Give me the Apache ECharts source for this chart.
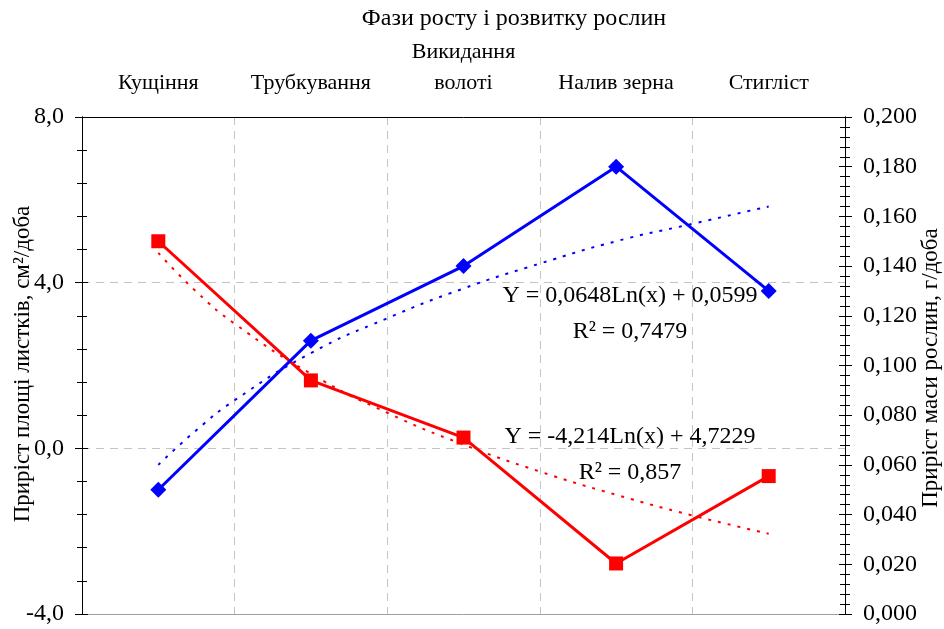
<!DOCTYPE html>
<html>
<head>
<meta charset="utf-8">
<script src="https://cdn.jsdelivr.net/npm/echarts@6/dist/echarts.min.js"></script>
<style>html,body{margin:0;padding:0;background:#fff}#c{width:944px;height:629px}</style>
</head>
<body>
<div id="c"></div>
<script>
const categories = ['Кущіння', 'Трубкування', 'Викидання\nволоті', 'Налив зерна', 'Стигліст'];
const leafArea = [5.0, 1.64, 0.26, -2.78, -0.67];          // left axis, red
const plantMass = [0.050, 0.110, 0.140, 0.180, 0.130];      // right axis, blue
const trendX = [1, 1.25, 1.5, 2, 2.5, 3, 3.5, 4, 4.5, 5];
const leafTrend = [4.72, 3.78, 3.01, 1.80, 0.86, 0.09, -0.56, -1.12, -1.62, -2.06];
const massTrend = [0.060, 0.074, 0.086, 0.105, 0.119, 0.131, 0.141, 0.150, 0.157, 0.164];
const leftTicks = { min: -4, max: 8, interval: 4 };
const rightTicks = { min: 0, max: 0.2, interval: 0.02 };

const FONT = 'Liberation Serif';
const chart = echarts.init(document.getElementById('c'), null, { renderer: 'canvas' });
const pos = (i) => i + 0.5;
const trendPos = (x) => x - 0.5;

const yBase = (side, t, fmtDigits, tickIn, labelShow) => ({
  type: 'value', position: side, min: t.min, max: t.max, interval: t.interval,
  axisLine: { show: true, onZero: false, lineStyle: { color: '#000', width: 1 } },
  axisTick: { show: true, inside: tickIn, length: tickIn ? 6 : 7, lineStyle: { color: '#000' } },
  minorTick: { show: true, splitNumber: 5, length: 5, lineStyle: { color: '#000' } },
  axisLabel: { show: labelShow, color: '#000', fontFamily: FONT, fontSize: 24, margin: 18,
    formatter: v => v.toFixed(fmtDigits).replace('.', ',') },
  splitLine: { show: false }, z: 4
});

const left = yBase('left', leftTicks, 1, false, true);
left.splitLine = { show: true, showMinLine: false, showMaxLine: false,
  lineStyle: { color: '#c4c4c4', type: [8, 6], width: 1 } };
left.z = 0;
const leftIn = yBase('left', leftTicks, 1, true, false);
const right = yBase('right', rightTicks, 3, false, true);
const rightIn = yBase('right', rightTicks, 3, true, false);

chart.setOption({
  animation: false,
  backgroundColor: '#fff',
  grid: { left: 82, right: 99, top: 117, bottom: 15, containLabel: false },
  xAxis: [
    { type: 'category', position: 'top', data: categories, boundaryGap: true,
      axisLine: { onZero: false, lineStyle: { color: '#000' } }, axisTick: { show: false },
      axisLabel: { color: '#000', fontFamily: FONT, fontSize: 22, lineHeight: 31, margin: 18, interval: 0 },
      splitLine: { show: false }, z: 4 },
    { type: 'value', position: 'bottom', min: 0, max: 5, interval: 1,
      axisLine: { show: true, onZero: false, lineStyle: { color: '#a0a0a0' } },
      axisTick: { show: false }, axisLabel: { show: false },
      splitLine: { show: true, showMinLine: false, showMaxLine: false,
        lineStyle: { color: '#c4c4c4', type: [8, 6], width: 1 } }, z: 0 }
  ],
  yAxis: [left, right, leftIn, rightIn],
  series: [
    { type: 'line', name: 'trendLeaf', xAxisIndex: 1, yAxisIndex: 0, smooth: true, showSymbol: false,
      data: trendX.map((x, i) => [trendPos(x), leafTrend[i]]),
      lineStyle: { color: '#ff0000', width: 2, type: [3, 7] }, z: 2 },
    { type: 'line', name: 'trendMass', xAxisIndex: 1, yAxisIndex: 1, smooth: true, showSymbol: false,
      data: trendX.map((x, i) => [trendPos(x), massTrend[i]]),
      lineStyle: { color: '#0000ff', width: 2, type: [3, 7] }, z: 2 },
    { type: 'line', name: 'leaf', xAxisIndex: 1, yAxisIndex: 0,
      data: leafArea.map((v, i) => [pos(i), v]),
      symbol: 'rect', symbolSize: 14, itemStyle: { color: '#ff0000' },
      lineStyle: { color: '#ff0000', width: 3 }, z: 3 },
    { type: 'line', name: 'mass', xAxisIndex: 1, yAxisIndex: 1,
      data: plantMass.map((v, i) => [pos(i), v]),
      symbol: 'diamond', symbolSize: 16, itemStyle: { color: '#0000ff' },
      lineStyle: { color: '#0000ff', width: 3 }, z: 3 }
  ],
  graphic: [
    { type: 'text', x: 514, y: 19, style: { text: 'Фази росту і розвитку рослин', fill: '#000',
      font: '24px "Liberation Serif"', textAlign: 'center', textVerticalAlign: 'middle' }, z: 10 },
    { type: 'text', x: 23, y: 364, rotation: Math.PI / 2, style: { text: 'Приріст площі листків, см²/доба', fill: '#000',
      font: '23px "Liberation Serif"', textAlign: 'center', textVerticalAlign: 'middle' }, z: 10 },
    { type: 'text', x: 931, y: 368, rotation: Math.PI / 2, style: { text: 'Приріст маси рослин, г/доба', fill: '#000',
      font: '23px "Liberation Serif"', textAlign: 'center', textVerticalAlign: 'middle' }, z: 10 },
    { type: 'text', x: 630, y: 296, style: { text: 'Y = 0,0648Ln(x) + 0,0599', fill: '#000',
      font: '24px "Liberation Serif"', textAlign: 'center', textVerticalAlign: 'middle' }, z: 10 },
    { type: 'text', x: 630, y: 332, style: { text: 'R² = 0,7479', fill: '#000',
      font: '24px "Liberation Serif"', textAlign: 'center', textVerticalAlign: 'middle' }, z: 10 },
    { type: 'text', x: 630, y: 437, style: { text: 'Y = -4,214Ln(x) + 4,7229', fill: '#000',
      font: '24px "Liberation Serif"', textAlign: 'center', textVerticalAlign: 'middle' }, z: 10 },
    { type: 'text', x: 630, y: 473, style: { text: 'R² = 0,857', fill: '#000',
      font: '24px "Liberation Serif"', textAlign: 'center', textVerticalAlign: 'middle' }, z: 10 }
  ]
});
</script>
</body>
</html>
